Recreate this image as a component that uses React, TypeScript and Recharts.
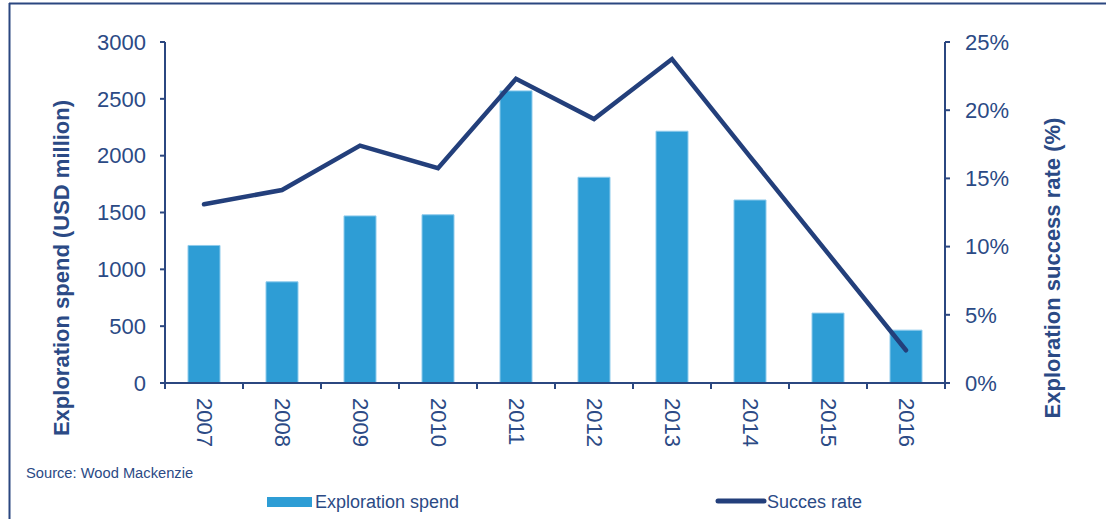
import { ComposedChart, Bar, Line, XAxis, YAxis } from "recharts";

const years = ["2007", "2008", "2009", "2010", "2011", "2012", "2013", "2014", "2015", "2016"];
const spend = [1210, 890, 1470, 1480, 2570, 1810, 2215, 1610, 615, 465];
const successRate = [13.1, 14.15, 17.4, 15.75, 22.3, 19.35, 23.75, 16.6, 9.5, 2.4];
const spendTicks = [0, 500, 1000, 1500, 2000, 2500, 3000];
const rateTicks = [0, 5, 10, 15, 20, 25];

const data = years.map((y, i) => ({ year: y, spend: spend[i], rate: successRate[i] }));

const FONT = '"Liberation Sans", Arial, sans-serif';
const TEXT = "#2B4A85";
const AXIS = "#2B4780";
const BAR = "#2E9DD5";
const LINE = "#233F7B";

function YearTick(props: any) {
  const { x, y, payload, index } = props;
  const half = payload && payload.offset ? payload.offset : 39;
  return (
    <g>
      <line x1={x - half} y1={y - 8} x2={x - half} y2={y - 2} stroke={AXIS} strokeWidth={2} />
      {index === years.length - 1 && (
        <line x1={x + half} y1={y - 8} x2={x + half} y2={y - 2} stroke={AXIS} strokeWidth={2} />
      )}
      <text
        x={x}
        y={y + 7}
        transform={`rotate(90, ${x}, ${y + 7})`}
        textAnchor="start"
        dominantBaseline="central"
        fill={TEXT}
        fontSize={22}
        fontFamily={FONT}
      >
        {payload.value}
      </text>
    </g>
  );
}

export default function App() {
  return (
    <div style={{ position: "absolute", left: 0, top: 0, width: 1106, height: 519, background: "#fff", overflow: "hidden" }}>
      <ComposedChart
        width={1106}
        height={519}
        data={data}
        margin={{ top: 42, right: 0, bottom: 76, left: 0 }}
        barCategoryGap={0}
      >
        <XAxis
          dataKey="year"
          height={60}
          interval={0}
          tick={<YearTick />}
          tickLine={false}
          axisLine={{ stroke: AXIS, strokeWidth: 2 }}
        />
        <YAxis
          yAxisId="left"
          width={165}
          domain={[0, 3000]}
          ticks={spendTicks}
          interval={0}
          tickSize={5}
          tickMargin={14}
          tick={{ fill: TEXT, fontSize: 22, fontFamily: FONT }}
          tickLine={{ stroke: AXIS, strokeWidth: 2 }}
          axisLine={{ stroke: AXIS, strokeWidth: 2 }}
        />
        <YAxis
          yAxisId="right"
          orientation="right"
          width={161}
          domain={[0, 25]}
          ticks={rateTicks}
          interval={0}
          tickSize={5}
          tickMargin={15}
          tickFormatter={(v: number) => `${v}%`}
          tick={{ fill: TEXT, fontSize: 22, fontFamily: FONT }}
          tickLine={{ stroke: AXIS, strokeWidth: 2 }}
          axisLine={{ stroke: AXIS, strokeWidth: 2 }}
        />
        <Bar
          yAxisId="left"
          dataKey="spend"
          barSize={32}
          fill={BAR}
          stroke="#8ECBEC"
          strokeWidth={1}
          isAnimationActive={false}
        />
        <Line
          yAxisId="right"
          dataKey="rate"
          type="linear"
          stroke={LINE}
          strokeWidth={4.5}
          strokeLinecap="round"
          dot={false}
          activeDot={false}
          isAnimationActive={false}
        />
      </ComposedChart>
      <svg
        width={1106}
        height={519}
        style={{ position: "absolute", left: 0, top: 0, pointerEvents: "none" }}
      >
        <line x1={9} y1={3.5} x2={1106} y2={3.5} stroke={AXIS} strokeWidth={2} />
        <line x1={9.5} y1={3} x2={9.5} y2={519} stroke={AXIS} strokeWidth={2} />
        <text
          x={61}
          y={268}
          transform="rotate(-90, 61, 268)"
          textAnchor="middle"
          dominantBaseline="central"
          fill={TEXT}
          fontSize={22}
          fontWeight="bold"
          fontFamily={FONT}
        >
          Exploration spend (USD million)
        </text>
        <text
          x={1052}
          y={268}
          transform="rotate(-90, 1052, 268)"
          textAnchor="middle"
          dominantBaseline="central"
          fill={TEXT}
          fontSize={22}
          fontWeight="bold"
          fontFamily={FONT}
        >
          Exploration success rate (%)
        </text>
        <text x={26} y={478} fill={TEXT} fontSize={14.7} fontFamily={FONT}>
          Source: Wood Mackenzie
        </text>
        <rect x={267} y={497} width={45} height={10} fill={BAR} />
        <text x={315} y={508} fill={TEXT} fontSize={18} fontFamily={FONT}>
          Exploration spend
        </text>
        <line x1={718} y1={501} x2={764} y2={501} stroke={LINE} strokeWidth={5} strokeLinecap="round" />
        <text x={767} y={508} fill={TEXT} fontSize={18} fontFamily={FONT}>
          Succes rate
        </text>
      </svg>
    </div>
  );
}
